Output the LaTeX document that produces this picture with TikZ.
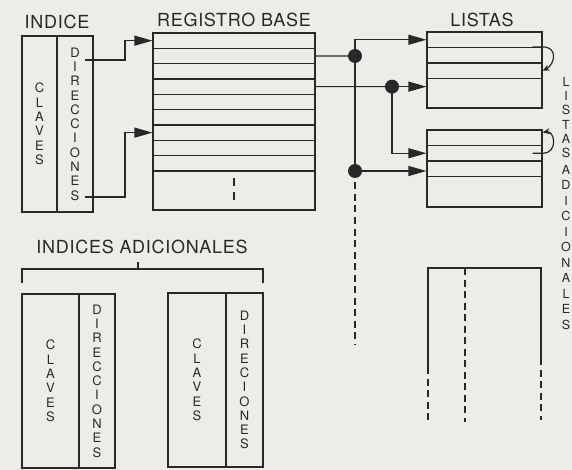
\documentclass[tikz,border=0pt]{standalone}
\usepackage{fontspec}
\setmainfont{TeX Gyre Heros}
\newfontfamily\titlefont[LetterSpace=4]{TeX Gyre Heros}
\usetikzlibrary{arrows.meta}
\definecolor{paper}{RGB}{236,236,233}
\definecolor{ink}{RGB}{40,40,40}
\tikzset{
  ttl/.style={font=\titlefont\fontsize{18}{20}\selectfont,text=ink},
  vtxt/.style={align=center,text=ink,inner sep=0pt},
  col/.style={draw=ink,line width=1.5pt,inner sep=0pt,align=center,text=ink,font=\fontsize{13}{14.3}\selectfont},
  row/.style={draw=ink,line width=1.2pt,inner sep=0pt},
  ln/.style={ink,line width=1.2pt},
  arr/.style={ln,-{Triangle[length=18pt,width=10pt]}},
  lp/.style={ln,-{Stealth[length=7pt,width=6pt]}},
  dsh/.style={ln,line width=1.6pt,dash pattern=on 7pt off 4.5pt},
  dot/.style={circle,fill=ink,inner sep=0pt,minimum size=14pt}
}

\begin{document}
\begin{tikzpicture}[x=1pt,y=-1pt]
  \fill[paper] (0,0) rectangle (572,470);
  \useasboundingbox (0,0) rectangle (572,470);

  \node[ttl] (tind) at (57,22) {INDICE};
  \node[ttl] (treg) at (234,20) {REGISTRO\ BASE};
  \node[ttl] (tlis) at (482,20) {LISTAS};
  \node[ttl] (tadi) at (142,247) {INDICES ADICIONALES};

  \node[col,minimum width=35,minimum height=176] (ik) at (39.5,124) {C\\L\\A\\V\\E\\S};
  \node[col,minimum width=36,minimum height=176] (id) at (75,124) {D\\I\\R\\E\\C\\C\\I\\O\\N\\E\\S};
  \coordinate (s1) at (85,60);
  \coordinate (s2) at (85,197);

  \foreach \i in {1,...,9}
    \node[row,minimum width=162,minimum height=15.33] (r\i) at (234,{25.33+15.33*\i}) {};
  \node[row,minimum width=162,minimum height=39] (rb) at (234,190.5) {};
  \draw[ln,line width=1.5pt] (r1.north west) rectangle (rb.south east);
  \draw[dsh,dash pattern=on 8pt off 6pt] ([yshift=12.5pt]rb.center) -- ([yshift=-9.5pt]rb.center);

  \draw[arr] (s1) -- ++(40,0) |- (r1.west);
  \draw[arr] (s2) -- ++(40,0) |- (r7.west);

  \node[row,minimum width=115,minimum height=15.5] (la1) at (484.5,39.75) {};
  \node[row,minimum width=115,minimum height=15.5] (la2) at (484.5,55.25) {};
  \node[row,minimum width=115,minimum height=15.5] (la3) at (484.5,70.75) {};
  \node[row,minimum width=115,minimum height=29.5] (la4) at (484.5,93.25) {};
  \draw[ln,line width=1.5pt] (la1.north west) rectangle (la4.south east);

  \node[row,minimum width=115,minimum height=15.5] (lb1) at (484.5,137.75) {};
  \node[row,minimum width=115,minimum height=15.5] (lb2) at (484.5,153.25) {};
  \node[row,minimum width=115,minimum height=15.5] (lb3) at (484.5,168.75) {};
  \node[row,minimum width=115,minimum height=30.5] (lb4) at (484.5,191.75) {};
  \draw[ln,line width=1.5pt] (lb1.north west) rectangle (lb4.south east);

  \coordinate (d1) at (355,56);
  \coordinate (d2) at (392,86.65);
  \coordinate (d3) at (355,171);
  \coordinate (e3) at (355,345);

  \draw[ln] (r2.east) -- (d1);
  \draw[ln] (r4.east) -- (d2);
  \draw[arr] (d1) |- (la1.west);
  \draw[arr] (d2) -- (d2 -| la4.west);
  \draw[arr] (d2) |- (lb2.west);
  \draw[ln] (d1) -- (d3);
  \draw[arr] (d3) -- (d3 -| lb3.west);
  \draw[dsh] (d3) -- (e3);

  \draw[lp] ([xshift=-10pt]la2.north east) -- (la2.north east) .. controls +(16,0) and +(12,-6) .. (la3.east);
  \draw[lp] ([xshift=-10pt]lb2.east) -- (lb2.east) .. controls +(16,0) and +(12,-2) .. ([yshift=-3pt]lb1.north east);

  \node[dot] (dot1) at (d1) {};
  \node[dot] (dot2) at (d2) {};
  \node[dot] (dot3) at (d3) {};

  \node[vtxt,font=\fontsize{12.5}{14.2}\selectfont] (vlis) at (566,117.5) {L\\I\\S\\T\\A\\S};
  \node[vtxt,font=\fontsize{12.5}{15.5}\selectfont] (vadi) at (566,247.5) {A\\D\\I\\C\\I\\O\\N\\A\\L\\E\\S};

  \coordinate (bl) at (22,283);
  \coordinate (br) at (263,283);
  \coordinate (bt) at (138,262);
  \draw[ln] (bl) -- ++(0,-14) -| (br);
  \draw[ln] (bt) -- ++(0,7);

  \node[col,minimum width=57,minimum height=174] (iak) at (50.5,381) {C\\L\\A\\V\\E\\S};
  \node[col,minimum width=36,minimum height=174] (iad) at (97,381) {D\\I\\R\\E\\C\\C\\I\\O\\N\\E\\S};
  \node[col,minimum width=58,minimum height=174] (ibk) at (197,380) {C\\L\\A\\V\\E\\S};
  \node[col,minimum width=37,minimum height=174] (ibd) at (244.5,380) {D\\I\\R\\E\\C\\I\\O\\N\\E\\S};

  \coordinate (pl) at (428,268);
  \coordinate (pm) at (465,268);
  \coordinate (pr) at (541,268);
  \coordinate (ql) at (428,367);
  \coordinate (qr) at (541,358);
  \coordinate (el) at (428,422);
  \coordinate (em) at (465,422);
  \coordinate (er) at (541,420);
  \draw[ln,line width=1.6pt] (ql) -- (pl) -- (pr) -- (qr);
  \draw[dsh] (ql) -- (el);
  \draw[dsh] (qr) -- (er);
  \draw[dsh] (pm) -- (em);
\end{tikzpicture}
\end{document}
